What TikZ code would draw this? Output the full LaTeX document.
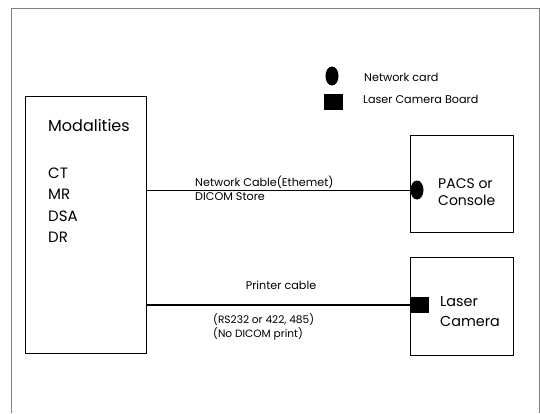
\documentclass[tikz,border=0pt]{standalone}
\usepackage{fontspec}
\setmainfont{Poppins}
\usetikzlibrary{shapes.geometric}
\tikzset{
  boxnode/.style={draw=black, line width=0.7pt, inner sep=0pt},
  lbl/.style={inner sep=0pt, anchor=west, font=\fontsize{11.2}{12}\selectfont},
  big/.style={inner sep=0pt, anchor=west, align=left, font=\fontsize{16}{20}\selectfont},
  netcard/.style={ellipse, fill=black, minimum width=13pt, minimum height=19pt, inner sep=0pt},
  lcboard/.style={rectangle, fill=black, minimum width=19pt, minimum height=16pt, inner sep=0pt},
}
\begin{document}
\begin{tikzpicture}[x=1pt, y=-1pt]
\useasboundingbox (0,0) rectangle (540,413);
% outer frame
\draw[gray, line width=0.8pt] (11,413) -- (11,8) -- (539,8) -- (539,413);
% boxes
\node[boxnode, minimum width=121pt, minimum height=257pt] (mod) at (85.5,224.5) {};
\node[boxnode, minimum width=103pt, minimum height=97pt] (pacs) at (461.5,183.5) {};
\node[boxnode, minimum width=103pt, minimum height=98pt] (cam) at (461.5,306) {};
% box texts
\node[big] (modt) at (48,125) {Modalities};
\node[big, font=\fontsize{15}{21.5}\selectfont] (modl) at (48,205) {CT\\MR\\DSA\\DR};
\node[big, font=\fontsize{14}{16.5}\selectfont] (pacst) at (438,192) {PACS or\\Console};
\node[big, font=\fontsize{14.4}{20}\selectfont] (camt) at (440,312) {Laser\\Camera};
% connectors
\node[netcard] (nc) at (417,190) {};
\node[lcboard] (lc) at (419.5,305) {};
\draw[line width=0.8pt] (mod.east |- nc) -- (nc);
\draw[line width=2.6pt] (mod.east |- lc) -- (lc);
% connector labels
\node[lbl] (l1) at (195,182) {Network Cable(Ethemet)};
\node[lbl] (l2) at (195,197) {DICOM Store};
\node[lbl, anchor=center] (l3) at (281,285) {Printer cable};
\node[lbl, font=\fontsize{10.6}{12}\selectfont] (l4) at (213,320) {(RS232 or 422, 485)};
\node[lbl, font=\fontsize{10.6}{12}\selectfont] (l5) at (213,334) {(No DICOM print)};
% legend
\node[netcard] (lnc) at (332,76) {};
\node[lcboard] (llc) at (333,102) {};
\node[lbl] (lnct) at (364,77) {Network card};
\node[lbl] (llct) at (363,99) {Laser Camera Board};
\end{tikzpicture}
\end{document}
